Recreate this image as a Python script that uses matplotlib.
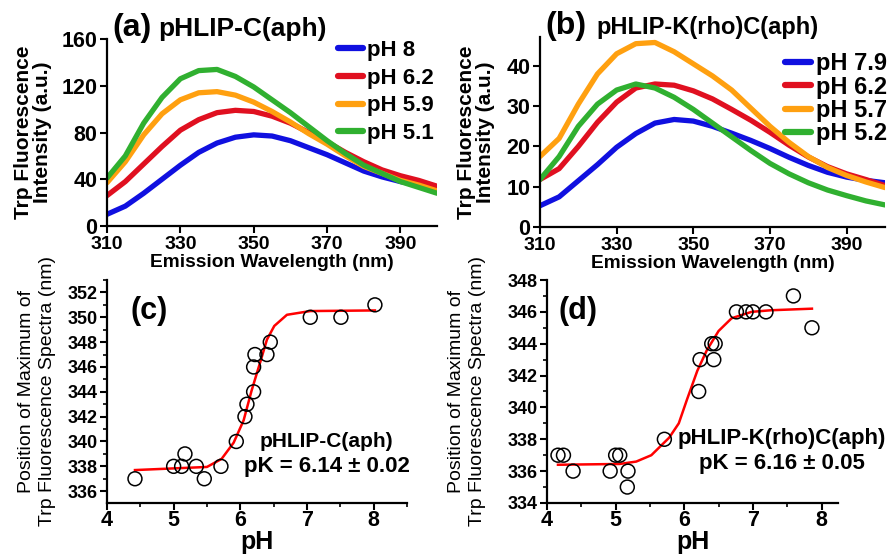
import matplotlib
matplotlib.use('Agg')
import matplotlib.pyplot as plt
from matplotlib.ticker import MultipleLocator

plt.rcParams['font.family'] = ['Liberation Sans', 'DejaVu Sans']
plt.rcParams['font.weight'] = 'bold'

# ---- data: emission spectra ----
wavelength = [310, 315, 320, 325, 330, 335, 340, 345, 350, 355,
              360, 365, 370, 375, 380, 385, 390, 395, 400]

a_labels = ['pH 8', 'pH 6.2', 'pH 5.9', 'pH 5.1']
a_ph8 = [10, 17, 28, 40, 52, 63, 71, 76, 78, 77, 73, 67, 61, 54, 47, 42, 38, 35, 31]
a_ph62 = [26, 38, 53, 68, 82, 91, 97, 99, 98, 94, 88, 80, 72, 63, 55, 48, 43, 39, 34]
a_ph59 = [37, 55, 78, 96, 108, 114, 115, 112, 106, 98, 89, 79, 70, 60, 51, 45, 39, 35, 30]
a_ph51 = [41, 60, 88, 110, 126, 133, 134, 128, 119, 108, 97, 85, 73, 62, 52, 45, 38, 33, 28]

b_labels = ['pH 7.9', 'pH 6.2', 'pH 5.7', 'pH 5.2']
b_ph79 = [5.3, 7.5, 11.5, 15.5, 19.8, 23.2, 25.8, 26.7, 26.3, 25.0,
          23.3, 21.5, 19.5, 17.3, 15.3, 13.6, 12.4, 11.6, 11.0]
b_ph62 = [11.8, 14.5, 20.0, 26.0, 31.0, 34.5, 35.5, 35.2, 33.8, 31.8,
          29.2, 26.5, 23.5, 20.3, 17.4, 15.0, 13.2, 11.8, 10.3]
b_ph57 = [17.5, 22.0, 30.5, 38.0, 43.0, 45.5, 45.8, 43.5, 40.5, 37.5,
          34.0, 29.5, 25.0, 21.0, 17.5, 14.8, 12.8, 11.2, 9.8]
b_ph52 = [11.8, 17.5, 25.0, 30.5, 34.0, 35.5, 34.5, 32.2, 29.2, 25.8,
          22.4, 19.0, 15.8, 13.2, 11.0, 9.2, 7.8, 6.5, 5.5]

# ---- data: position of maximum vs pH ----
c_ph = [4.42, 5.0, 5.12, 5.17, 5.34, 5.46, 5.71, 5.94, 6.07, 6.1,
        6.2, 6.2, 6.22, 6.4, 6.45, 7.05, 7.51, 8.02]
c_max = [337, 338, 338, 339, 338, 337, 338, 340, 342, 343,
         344, 346, 347, 347, 348, 350, 350, 351]
c_fit_ph = [4.42, 5.5, 5.72, 5.9, 6.05, 6.17, 6.3, 6.4, 6.51, 6.7, 7.05, 8.02]
c_fit_max = [337.7, 337.95, 338.6, 339.9, 341.7, 344.1, 346.4, 348.2, 349.3, 350.2, 350.5, 350.55]

d_ph = [4.16, 4.24, 4.38, 4.92, 5.0, 5.06, 5.18, 5.17, 5.71, 6.21,
        6.23, 6.40, 6.45, 6.43, 6.76, 6.9, 7.0, 7.19, 7.59, 7.86]
d_max = [337, 337, 336, 336, 337, 337, 336, 335, 338, 341,
         343, 344, 344, 343, 346, 346, 346, 346, 347, 345]
d_fit_ph = [4.16, 5.06, 5.3, 5.52, 5.78, 5.92, 6.04, 6.19, 6.33, 6.5, 6.69, 6.98, 7.26, 7.86]
d_fit_max = [336.4, 336.45, 336.6, 337.0, 338.1, 339.0, 340.5, 342.3, 343.6, 344.8, 345.6, 346.0, 346.1, 346.2]

colors = ['#1010e0', '#e01020', '#ffa010', '#30b030']

fig = plt.figure(figsize=(8.9, 5.58), dpi=100)


def style_axes(ax, xsize, ysize):
    ax.spines['top'].set_visible(False)
    ax.spines['right'].set_visible(False)
    ax.spines['left'].set_linewidth(1.6)
    ax.spines['bottom'].set_linewidth(1.6)
    ax.tick_params(direction='out', width=1.5, length=5, pad=2)
    ax.tick_params(axis='x', labelsize=xsize)
    ax.tick_params(axis='y', labelsize=ysize)
    for lbl in ax.get_xticklabels() + ax.get_yticklabels():
        lbl.set_fontweight('bold')


def spectra_panel(rect, series, labels, ylim, yticks, tag, title, title_size, title_x,
                  leg_size, leg_anchor, leg_space, ylab_x):
    ax = fig.add_axes(rect)
    for y, c, lab in zip(series, colors, labels):
        ax.plot(wavelength, y, color=c, lw=3.8, label=lab, solid_capstyle='round')
    ax.set_xlim(310, 400)
    ax.set_ylim(*ylim)
    ax.set_xticks([310, 330, 350, 370, 390])
    ax.set_yticks(yticks)
    style_axes(ax, 14, 15.5)
    ax.set_xlabel('Emission Wavelength (nm)', fontsize=13.8, fontweight='bold', labelpad=1)
    ax.set_ylabel('Trp Fluorescence\nIntensity (a.u.)', fontsize=15, fontweight='bold',
                  linespacing=1.0)
    ax.yaxis.set_label_coords(ylab_x, 0.5)
    leg = ax.legend(loc='upper left', bbox_to_anchor=leg_anchor, frameon=False,
                    fontsize=leg_size, handlelength=1.1, handletextpad=0.2,
                    labelspacing=leg_space, borderaxespad=0, borderpad=0)
    for t in leg.get_texts():
        t.set_fontweight('bold')
    for h in leg.get_lines():
        h.set_linewidth(4.5)
    ax.text(0.015, 1.016, tag, transform=ax.transAxes, fontsize=23, fontweight='bold',
            ha='left', va='baseline')
    ax.text(title_x, 1.016, title, transform=ax.transAxes, fontsize=title_size,
            fontweight='bold', ha='left', va='baseline')
    return ax


def titration_panel(rect, ph, mx, fit_ph, fit_mx, xlim, ylim, tag, tag_x, name, name_size,
                    pk_text, text_x, name_y, pk_y, ylab_x):
    ax = fig.add_axes(rect)
    ax.plot(fit_ph, fit_mx, color='#ff0000', lw=1.8, zorder=2)
    ax.scatter(ph, mx, s=100, facecolors='none', edgecolors='black', linewidths=1.1, zorder=3)
    ax.set_xlim(*xlim)
    ax.set_ylim(*ylim)
    ax.xaxis.set_major_locator(MultipleLocator(1))
    ax.xaxis.set_minor_locator(MultipleLocator(0.5))
    ax.yaxis.set_major_locator(MultipleLocator(2))
    ax.yaxis.set_minor_locator(MultipleLocator(1))
    style_axes(ax, 15.5, 13)
    ax.tick_params(axis='x', pad=0)
    ax.tick_params(which='minor', length=3, width=1.2)
    ax.set_xlabel('pH', fontsize=18, fontweight='bold', labelpad=-1)
    ax.set_ylabel('Position of Maximum of\nTrp Fluorescence Spectra (nm)', fontsize=14,
                  fontweight='normal', linespacing=1.3)
    ax.yaxis.set_label_coords(ylab_x, 0.5)
    ax.text(tag_x, 0.93, tag, transform=ax.transAxes, fontsize=22, fontweight='bold',
            ha='left', va='top')
    ax.text(text_x, name_y, name, transform=ax.transAxes, fontsize=name_size,
            fontweight='bold', ha='center', va='center')
    ax.text(text_x, pk_y, pk_text, transform=ax.transAxes, fontsize=16, fontweight='bold',
            ha='center', va='center')
    return ax


spectra_panel([0.1202, 0.595, 0.371, 0.335], [a_ph8, a_ph62, a_ph59, a_ph51], a_labels,
              (0, 160), [0, 40, 80, 120, 160], '(a)', 'pHLIP-C(aph)', 19, 0.155,
              16, (0.70, 0.995), 0.3, -0.165)
spectra_panel([0.6067, 0.593, 0.3877, 0.341], [b_ph79, b_ph62, b_ph57, b_ph52], b_labels,
              (0, 47.2), [0, 10, 20, 30, 40], '(b)', 'pHLIP-K(rho)C(aph)', 17, 0.165,
              17, (0.71, 0.92), 0.02, -0.13)

titration_panel([0.1202, 0.0986, 0.337, 0.3996], c_ph, c_max, c_fit_ph, c_fit_max,
                (4, 8.5), (335.05, 353), '(c)', 0.077, 'pHLIP-C(aph)', 15,
                'pK = 6.14 \u00b1 0.02', 0.733, 0.275, 0.165, -0.17)
titration_panel([0.6146, 0.0986, 0.327, 0.3996], d_ph, d_max, d_fit_ph, d_fit_max,
                (4, 8.24), (334, 348), '(d)', 0.04, 'pHLIP-K(rho)C(aph)', 16,
                'pK = 6.16 \u00b1 0.05', 0.808, 0.29, 0.175, -0.21)

fig.savefig('out.png', dpi=100)
